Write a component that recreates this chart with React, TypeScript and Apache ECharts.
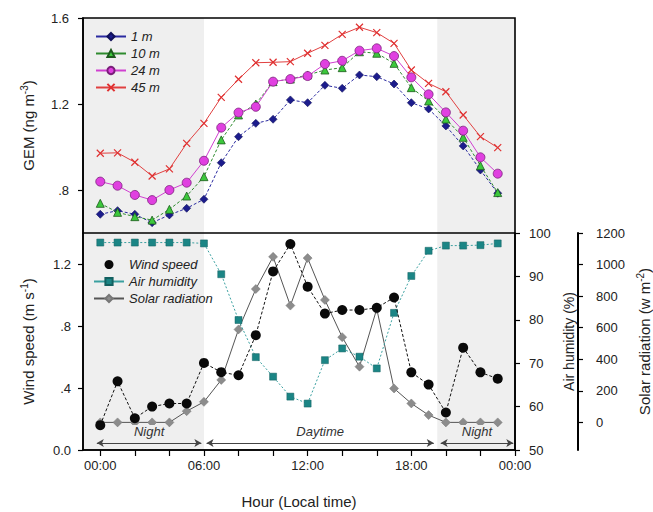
import React, { useEffect, useRef } from 'react';
import * as echarts from 'echarts';

// ---------- data ----------
const HOURS = [0, 1, 2, 3, 4, 5, 6, 7, 8, 9, 10, 11, 12, 13, 14, 15, 16, 17, 18, 19, 20, 21, 22, 23];

const GEM_1M = [0.687, 0.704, 0.687, 0.648, 0.684, 0.715, 0.757, 0.927, 1.048, 1.11, 1.129, 1.219, 1.206, 1.287, 1.273, 1.335, 1.327, 1.293, 1.206, 1.177, 1.098, 1.005, 0.893, 0.785];
const GEM_10M = [0.738, 0.696, 0.676, 0.66, 0.71, 0.772, 0.862, 1.033, 1.149, 1.2, 1.304, 1.316, 1.335, 1.358, 1.369, 1.443, 1.436, 1.389, 1.276, 1.214, 1.13, 1.045, 0.913, 0.788];
const GEM_24M = [0.839, 0.82, 0.777, 0.753, 0.8, 0.834, 0.936, 1.09, 1.16, 1.187, 1.304, 1.316, 1.33, 1.386, 1.401, 1.448, 1.459, 1.423, 1.324, 1.245, 1.161, 1.076, 0.952, 0.876];
const GEM_45M = [0.971, 0.973, 0.929, 0.865, 0.898, 1.017, 1.11, 1.231, 1.315, 1.392, 1.394, 1.397, 1.436, 1.473, 1.524, 1.557, 1.532, 1.482, 1.358, 1.296, 1.257, 1.149, 1.048, 0.997];

const WIND_SPEED = [0.16, 0.443, 0.205, 0.28, 0.3, 0.3, 0.562, 0.502, 0.482, 0.741, 1.152, 1.329, 1.054, 0.88, 0.903, 0.903, 0.917, 0.984, 0.501, 0.422, 0.242, 0.66, 0.501, 0.46];
const AIR_HUMIDITY = [97.8, 97.8, 97.8, 97.8, 97.8, 97.8, 97.6, 90.5, 79.95, 71.4, 66.9, 62.3, 60.7, 70.7, 73.4, 71.5, 68.8, 81.6, 90.1, 95.9, 97.1, 97.1, 97.2, 97.6];
const SOLAR_RADIATION = [0, 0, 0, 0, 0, 71, 130, 269, 589, 845, 1049, 740, 1041, 776, 540, 353, 719, 215, 120, 46, 0, 0, 0, 0];

const X_TICKS = [0, 2, 4, 6, 8, 10, 12, 14, 16, 18, 20, 22, 24];
const X_LABELS = [0, 6, 12, 18, 24];
const GEM_TICKS = [0.8, 1.2, 1.6];
const WIND_TICKS = [0, 0.4, 0.8, 1.2];
const HUM_TICKS = [50, 60, 70, 80, 90, 100];
const SOLAR_TICKS = [0, 200, 400, 600, 800, 1000, 1200];

const NIGHT_SPANS = [[-1, 6], [19.5, 24]];
const PERIOD_NAMES = ['Night', 'Daytime', 'Night'];
const PERIOD_STARTS = [-0.2, 6.15, 19.7];
const PERIOD_ENDS = [5.85, 19.3, 23.9];
const ARROW_LEVEL = 0.045;

const FONT = '"Liberation Sans", Arial, sans-serif';
const TXT = '#222';

const pair = (arr: number[]) => HOURS.map((h, i) => [h, arr[i]]);
const noLeadZero = (v: number) => (v === 0 ? '0.0' : v.toFixed(1).replace(/^0/, ''));
const hourLabel = (v: number) => String(Math.round(v) % 24).padStart(2, '0') + ':00';

export default function App() {
  const ref = useRef<HTMLDivElement>(null);
  useEffect(() => {
    if (!ref.current) return;
    const chart = echarts.init(ref.current, undefined, { renderer: 'svg' });
    const nightAreas = NIGHT_SPANS.map((s) => [{ xAxis: s[0] }, { xAxis: s[1] }]);
    const mkTick = (vals: number[]) => ({ show: true, inside: false, length: 5, customValues: vals, lineStyle: { color: '#000', width: 1.2 } });
    const mkLine = (w = 1.6) => ({ show: true, onZero: false, lineStyle: { color: '#000', width: w } });
    const legendText = { fontSize: 13, fontStyle: 'italic', color: TXT, fontFamily: FONT };
    const supRich = () => ({ sup: { fontSize: 10, verticalAlign: 'top', padding: [0, 0, 8, 0], color: TXT } });
    const frameStyle = { stroke: '#000', lineWidth: 1.6, fill: 'none' };
    const option: any = {
      animation: false,
      textStyle: { fontFamily: FONT, color: TXT },
      grid: [
        { left: 83, right: 138, top: 18, height: 215, outerBoundsMode: 'none', containLabel: false },
        { left: 83, right: 138, top: 233, bottom: 62, outerBoundsMode: 'none', containLabel: false },
      ],
      graphic: [
        { type: 'rect', z: 100, silent: true, shape: { x: 83, y: 18, width: 432, height: 215 }, style: frameStyle },
        { type: 'line', z: 100, silent: true, shape: { x1: 83, y1: 233, x2: 83, y2: 450 }, style: frameStyle },
        { type: 'line', z: 100, silent: true, shape: { x1: 515, y1: 233, x2: 515, y2: 450 }, style: frameStyle },
        { type: 'line', z: 100, silent: true, shape: { x1: 83, y1: 450, x2: 515, y2: 450 }, style: frameStyle },
      ],
      legend: [
        {
          orient: 'vertical', left: 90, top: 25, itemWidth: 30, itemHeight: 9, itemGap: 4,
          lineStyle: { type: 'solid' }, textStyle: legendText,
          data: ['1 m', '10 m', '24 m', '45 m'],
        },
        {
          orient: 'vertical', left: 88, top: 253, itemWidth: 30, itemHeight: 9, itemGap: 4,
          lineStyle: { type: 'solid' }, textStyle: legendText,
          data: [{ name: 'Wind speed', icon: 'circle' }, 'Air humidity', 'Solar radiation'],
        },
      ],
      xAxis: [
        { type: 'value', gridIndex: 0, min: -1, max: 24, show: false },
        {
          type: 'value', gridIndex: 1, min: -1, max: 24, z: 10,
          axisLine: mkLine(),
          axisTick: { show: true, inside: false, length: 6, customValues: X_TICKS, lineStyle: { color: '#000', width: 1.2 } },
          axisLabel: { customValues: X_LABELS, formatter: hourLabel, fontSize: 13, color: TXT, margin: 9 },
          splitLine: { show: false },
          name: 'Hour (Local time)', nameLocation: 'middle', nameGap: 44,
          nameTextStyle: { fontSize: 15, color: TXT },
        },
      ],
      yAxis: [
        {
          type: 'value', gridIndex: 0, min: 0.6, max: 1.6, z: 10,
          axisLine: mkLine(), axisTick: mkTick(GEM_TICKS),
          axisLabel: { customValues: GEM_TICKS, formatter: noLeadZero, fontSize: 13, color: TXT, margin: 14 },
          splitLine: { show: false },
          name: 'GEM (ng m{sup|-3})', nameLocation: 'middle', nameGap: 46, nameRotate: 90,
          nameTextStyle: { fontSize: 15, color: TXT, rich: supRich() },
        },
        {
          type: 'value', gridIndex: 1, min: 0, max: 1.4, z: 10,
          axisLine: mkLine(), axisTick: mkTick(WIND_TICKS),
          axisLabel: { customValues: WIND_TICKS, formatter: noLeadZero, fontSize: 13, color: TXT, margin: 12 },
          splitLine: { show: false },
          name: 'Wind speed (m s{sup|-1})', nameLocation: 'middle', nameGap: 46, nameRotate: 90,
          nameTextStyle: { fontSize: 15, color: TXT, rich: supRich() },
        },
        {
          type: 'value', gridIndex: 1, min: 50, max: 100, position: 'right', z: 10,
          axisLine: mkLine(), axisTick: mkTick(HUM_TICKS),
          axisLabel: { customValues: HUM_TICKS, formatter: (v: number) => String(v), fontSize: 13, color: TXT, margin: 14 },
          splitLine: { show: false },
          name: 'Air humidity (%)', nameLocation: 'middle', nameGap: 44, nameRotate: 90,
          nameTextStyle: { fontSize: 14, color: TXT },
        },
        {
          type: 'value', gridIndex: 1, min: -175, max: 1200, position: 'right', offset: 63, z: 10,
          axisLine: mkLine(2), axisTick: mkTick(SOLAR_TICKS),
          axisLabel: { customValues: SOLAR_TICKS, formatter: (v: number) => String(v), fontSize: 13, color: TXT, margin: 18 },
          splitLine: { show: false },
          name: 'Solar radiation (w m{sup|-2})', nameLocation: 'middle', nameGap: 55, nameRotate: 90,
          nameTextStyle: { fontSize: 15, color: TXT, rich: supRich() },
        },
      ],
      series: [
        {
          name: 'shade-top', type: 'line', xAxisIndex: 0, yAxisIndex: 0, data: [], z: 1, silent: true,
          markArea: { silent: true, itemStyle: { color: '#efefef' }, data: nightAreas },
        },
        {
          name: 'shade-bottom', type: 'line', xAxisIndex: 1, yAxisIndex: 1, data: [], z: 1, silent: true,
          markArea: { silent: true, itemStyle: { color: '#efefef' }, data: nightAreas },
          markLine: {
            silent: true, symbol: ['arrow', 'arrow'], symbolSize: [6, 7],
            lineStyle: { color: '#444', width: 1, type: 'solid' },
            label: { show: true, position: 'middle', formatter: '{b}', fontSize: 13, fontStyle: 'italic', color: '#333', padding: [0, 3] },
            data: PERIOD_NAMES.map((n, i) => [
              { coord: [PERIOD_STARTS[i], ARROW_LEVEL], name: n, label: { backgroundColor: n === 'Night' ? '#efefef' : '#fff' } },
              { coord: [PERIOD_ENDS[i], ARROW_LEVEL] },
            ]),
          },
        },
        {
          name: '1 m', type: 'line', xAxisIndex: 0, yAxisIndex: 0, data: pair(GEM_1M), z: 3,
          symbol: 'diamond', symbolSize: 8,
          itemStyle: { color: '#1c1c8c', borderColor: '#10105a', borderWidth: 0.6 },
          lineStyle: { color: '#2a2aa0', width: 1, type: [3, 2] },
        },
        {
          name: '10 m', type: 'line', xAxisIndex: 0, yAxisIndex: 0, data: pair(GEM_10M), z: 4,
          symbol: 'triangle', symbolSize: 8,
          itemStyle: { color: '#3cc83c', borderColor: '#1d5a1d', borderWidth: 0.8 },
          lineStyle: { color: '#2e8b2e', width: 1, type: [3, 2] },
        },
        {
          name: '24 m', type: 'line', xAxisIndex: 0, yAxisIndex: 0, data: pair(GEM_24M), z: 5,
          symbol: 'circle', symbolSize: 9,
          itemStyle: { color: '#e040e0', borderColor: '#7a1f7a', borderWidth: 0.8 },
          lineStyle: { color: '#d040d0', width: 1 },
        },
        {
          name: '45 m', type: 'line', xAxisIndex: 0, yAxisIndex: 0, data: pair(GEM_45M), z: 6,
          symbol: 'path://M0,0L10,10M10,0L0,10', symbolSize: 7,
          itemStyle: { color: '#e03030', borderColor: '#e03030', borderWidth: 1.2 },
          lineStyle: { color: '#e04040', width: 1 },
        },
        {
          name: 'Solar radiation', type: 'line', xAxisIndex: 1, yAxisIndex: 3, data: pair(SOLAR_RADIATION), z: 3,
          symbol: 'diamond', symbolSize: 9,
          itemStyle: { color: '#8c8c8c', borderColor: '#777', borderWidth: 0.5 },
          lineStyle: { color: '#555', width: 1 },
        },
        {
          name: 'Air humidity', type: 'line', xAxisIndex: 1, yAxisIndex: 2, data: pair(AIR_HUMIDITY), z: 4,
          symbol: 'rect', symbolSize: 7,
          itemStyle: { color: '#1b8585', borderColor: '#136060', borderWidth: 0.5 },
          lineStyle: { color: '#3aa0a0', width: 1, type: [2, 2] },
        },
        {
          name: 'Wind speed', type: 'line', xAxisIndex: 1, yAxisIndex: 1, data: pair(WIND_SPEED), z: 5,
          symbol: 'circle', symbolSize: 10,
          itemStyle: { color: '#0a0a0a' },
          lineStyle: { color: '#111', width: 1, type: [3, 2] },
        },
      ],
    };
    chart.setOption(option);
    return () => chart.dispose();
  }, []);
  return <div ref={ref} style={{ position: 'fixed', left: 0, top: 0, width: 653, height: 512, background: '#fff' }} />;
}
